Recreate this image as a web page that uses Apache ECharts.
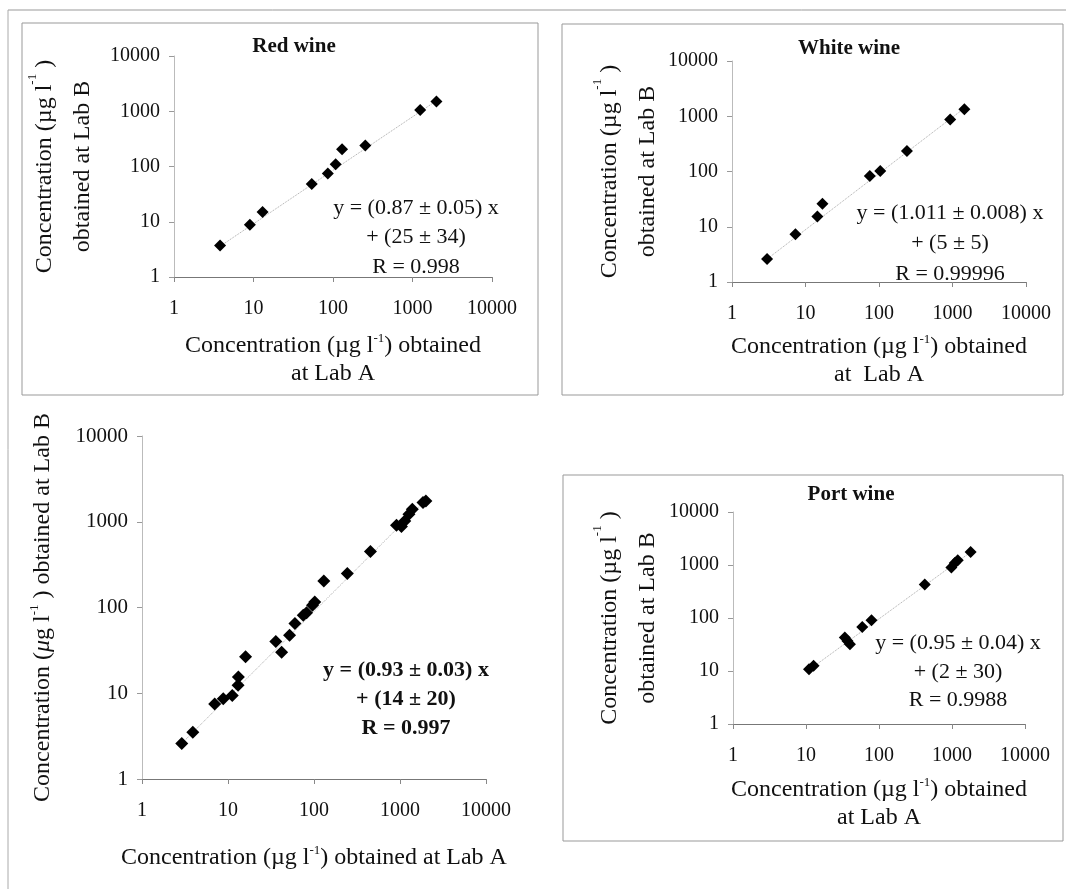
<!DOCTYPE html>
<html><head><meta charset="utf-8">
<script src="https://cdn.jsdelivr.net/npm/echarts@6/dist/echarts.min.js"></script>
<style>html,body{margin:0;padding:0;background:#fff}#c{width:1066px;height:889px}</style>
</head><body><div id="c"></div>
<script>
// ---- data (µg l-1) ----
const tickLabels = ['1', '10', '100', '1000', '10000'];

const redX = [3.8, 9, 13, 54, 86, 108, 130, 255, 1250, 2000];
const redY = [3.7, 8.8, 15, 48, 75, 110, 205, 240, 1050, 1500];
const redTrendX = [3.8, 2000];
const redTrendY = [3.6, 1550];

const whiteX = [3.0, 7.3, 14.5, 17, 75, 104, 240, 930, 1450];
const whiteY = [2.6, 7.3, 15.3, 26, 83, 102, 234, 875, 1340];
const whiteTrendX = [3.0, 1450];
const whiteTrendY = [2.6, 1400];

const allX = [2.9, 3.9, 7.0, 8.8, 11.2, 13.1, 13.2, 16, 36, 42, 52, 60, 75, 82, 96, 102, 130, 244, 453, 910, 1040, 1135, 1270, 1390, 1850, 2000];
const allY = [2.6, 3.5, 7.5, 8.6, 9.4, 12.4, 15.5, 26.6, 40, 30, 47.6, 65, 81, 87, 106, 116, 204, 250, 450, 910, 880, 1020, 1225, 1400, 1675, 1750];
const allTrendX = [2.9, 2000];
const allTrendY = [2.6, 1800];

const portX = [11, 12.7, 34, 37, 40, 59, 79, 423, 980, 1090, 1200, 1800];
const portY = [10.8, 12.6, 43, 37, 32, 68, 91, 428, 895, 1090, 1230, 1760];
const portTrendX = [11, 1800];
const portTrendY = [10.5, 1750];

const titles = ['Red wine', 'White wine', '', 'Port wine'];
const equations = [
  ['y = (0.87 ± 0.05) x', '+ (25 ± 34)', 'R = 0.998'],
  ['y = (1.011 ± 0.008) x', '+ (5 ± 5)', 'R = 0.99996'],
  ['y = (0.93 ± 0.03) x', '+ (14 ± 20)', 'R = 0.997'],
  ['y = (0.95 ± 0.04) x', '+ (2 ± 30)', 'R = 0.9988']
];

// ---- layout ----
const FONT = '"Liberation Serif", "Times New Roman", serif';
const grids = [
  {left: 174, right: 574, top: 56, bottom: 612},
  {left: 732, right: 40, top: 61, bottom: 607},
  {left: 142, right: 580, top: 436, bottom: 110},
  {left: 733, right: 41, top: 512, bottom: 165}
];
const xNameGap = [55, 51, 65, 52];
const yNameGap = [72, 65, 84, 66];
const titlePos = [[294, 47], [849, 49], null, [851, 495]];
const eqPos = [[416, 237.5, 29.5], [950, 243.5, 30.5], [406, 699, 29], [958, 672, 28.5]];

const pair = (xs, ys) => xs.map((v, i) => [v, ys[i]]);
const sets = [
  [redX, redY, redTrendX, redTrendY],
  [whiteX, whiteY, whiteTrendX, whiteTrendY],
  [allX, allY, allTrendX, allTrendY],
  [portX, portY, portTrendX, portTrendY]
];

const richBase = {
  a: {fontFamily: FONT, fontSize: 24, color: '#111', lineHeight: 28},
  s: {fontFamily: FONT, fontSize: 13, color: '#111', verticalAlign: 'top', lineHeight: 28},
  m: {fontFamily: FONT, fontSize: 24, color: '#111', fontStyle: 'italic', lineHeight: 28}
};
const richY = {
  a: Object.assign({}, richBase.a, {lineHeight: 38}),
  s: Object.assign({}, richBase.s, {lineHeight: 38}),
  m: Object.assign({}, richBase.m, {lineHeight: 38})
};

const xNames = [
  '{a|Concentration (µg l}{s|-1}{a|) obtained}\n{a|at Lab A}',
  '{a|Concentration (µg l}{s|-1}{a|) obtained}\n{a|at  Lab A}',
  '{a|Concentration (µg l}{s|-1}{a|) obtained at Lab A}',
  '{a|Concentration (µg l}{s|-1}{a|) obtained}\n{a|at Lab A}'
];
const yNames = [
  '{a|Concentration (µg l}{s|-1}{a| )}\n{a|obtained at Lab B}',
  '{a|Concentration (µg l}{s|-1}{a| )}\n{a|obtained at Lab B}',
  '{a|Concentration (}{m|μ}{a|g l}{s|-1}{a| ) obtained at Lab B}',
  '{a|Concentration (µg l}{s|-1}{a| )}\n{a|obtained at Lab B}'
];

const fmt = v => String(Math.round(v));
const xAxes = grids.map((g, i) => ({
  type: 'log', logBase: 10, min: 1, max: 10000, gridIndex: i,
  name: xNames[i], nameLocation: 'middle', nameGap: xNameGap[i],
  nameTextStyle: {rich: richBase},
  axisLine: {lineStyle: {color: '#777', width: 1}},
  axisTick: {show: true, length: 5, lineStyle: {color: '#888'}},
  minorTick: {show: false},
  splitLine: {show: false},
  axisLabel: {formatter: fmt, fontFamily: FONT, fontSize: 20, color: '#111', margin: 22, showMinLabel: true, showMaxLabel: true}
}));
const yAxes = grids.map((g, i) => ({
  type: 'log', logBase: 10, min: 1, max: 10000, gridIndex: i,
  name: yNames[i], nameLocation: 'middle', nameGap: yNameGap[i], nameRotate: 90,
  nameTextStyle: {rich: i === 2 ? Object.assign({}, richBase, {a: Object.assign({}, richBase.a, {lineHeight: 30})}) : richY},
  axisLine: {lineStyle: {color: '#bbb', width: 1}},
  axisTick: {show: true, length: 5, lineStyle: {color: '#999'}},
  splitLine: {show: false},
  axisLabel: {formatter: fmt, fontFamily: FONT, fontSize: i === 2 ? 21 : 20, color: '#111', margin: 14, showMinLabel: true, showMaxLabel: true}
}));

const series = [];
sets.forEach((s, i) => {
  series.push({
    type: 'line', xAxisIndex: i, yAxisIndex: i, data: pair(s[2], s[3]),
    symbol: 'none', silent: true, z: 1,
    lineStyle: {color: '#aaa', width: 1, type: 'dotted'}
  });
  series.push({
    type: 'scatter', xAxisIndex: i, yAxisIndex: i, data: pair(s[0], s[1]),
    symbol: 'diamond', symbolSize: i === 2 ? 13 : 12, z: 3,
    itemStyle: {color: '#000', opacity: 1}
  });
});

const graphic = [
  // outer frame
  {type: 'line', shape: {x1: 8, y1: 10, x2: 1066, y2: 10}, style: {stroke: '#999', lineWidth: 1}},
  {type: 'line', shape: {x1: 8, y1: 10, x2: 8, y2: 889}, style: {stroke: '#aaa', lineWidth: 1}},
  // panel boxes
  {type: 'rect', shape: {x: 22, y: 23, width: 516, height: 372}, style: {fill: 'none', stroke: '#999', lineWidth: 1}},
  {type: 'rect', shape: {x: 562, y: 24, width: 501, height: 371}, style: {fill: 'none', stroke: '#999', lineWidth: 1}},
  {type: 'rect', shape: {x: 563, y: 475, width: 500, height: 366}, style: {fill: 'none', stroke: '#999', lineWidth: 1}}
];
titles.forEach((t, i) => {
  if (!t) return;
  graphic.push({type: 'text', x: titlePos[i][0], y: titlePos[i][1], z: 10,
    style: {text: t, font: 'bold 21px ' + FONT, fill: '#111', textAlign: 'center', textVerticalAlign: 'middle', align: 'center', verticalAlign: 'middle'}});
});
equations.forEach((eq, i) => {
  graphic.push({type: 'text', x: eqPos[i][0], y: eqPos[i][1], z: 10,
    style: {text: eq.join('\n'), font: (i === 2 ? 'bold ' : '') + '22px ' + FONT, lineHeight: eqPos[i][2], fill: '#111',
      textAlign: 'center', textVerticalAlign: 'middle', align: 'center', verticalAlign: 'middle'}});
});

const chart = echarts.init(document.getElementById('c'), null, {renderer: 'canvas'});
chart.setOption({
  backgroundColor: '#fff',
  animation: false,
  grid: grids,
  xAxis: xAxes,
  yAxis: yAxes,
  series: series,
  graphic: graphic
});
</script></body></html>
